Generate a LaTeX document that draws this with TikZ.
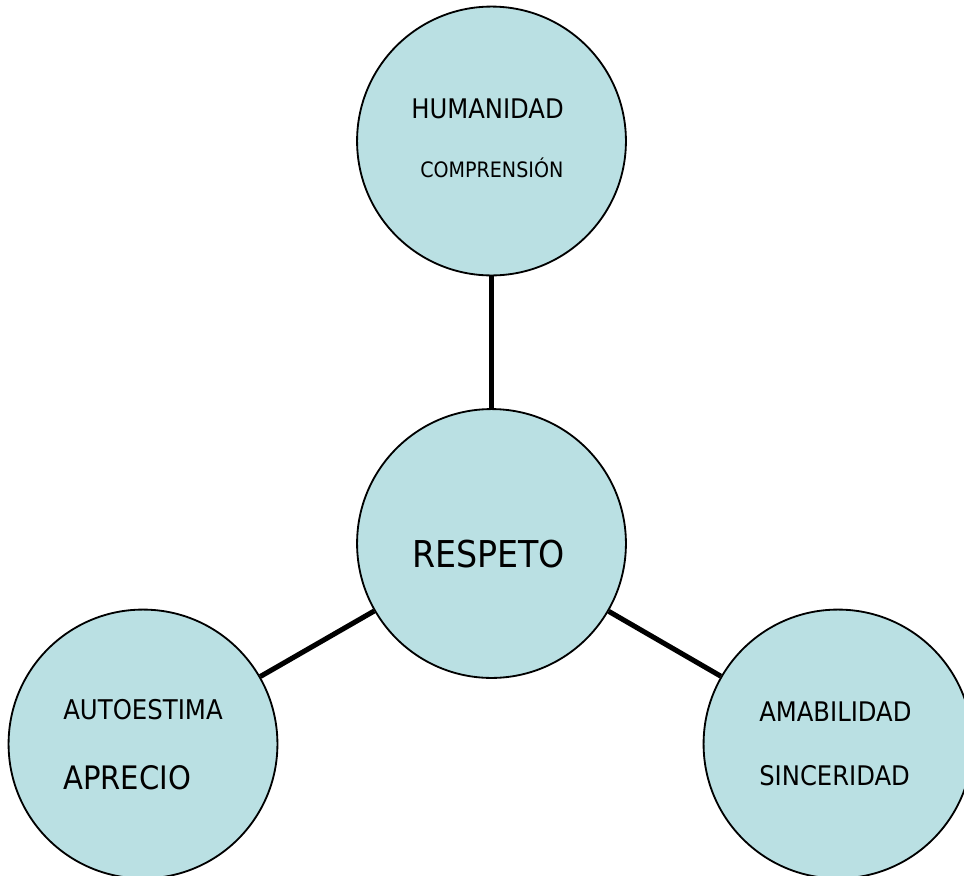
\documentclass[tikz,border=0pt]{standalone}
\usepackage{fontspec}
\setmainfont{DejaVu Sans Condensed}
\usepackage{xcolor}
\usepackage{tikz}
\usetikzlibrary{positioning,calc}
\definecolor{valorfill}{HTML}{BAE0E3}
\tikzset{
    valor/.style={circle, draw=black, line width=1.3pt, fill=valorfill, minimum size=6.72cm, inner sep=0pt},
    enlace/.style={line width=3.6pt},
    texto/.style={anchor=base west, inner sep=0pt}
}

\begin{document}
\begin{tikzpicture}[x=0.025cm, y=-0.025cm]
    \useasboundingbox (0,0) rectangle (964,875);
    \clip (0,0) rectangle (964,875);

    % Circles
    \node[valor] (respeto) at (491.5,543.5) {};
    \node[valor] (humanidad) at (491.5,141) {};
    \node[valor] (autoestima) at (143,744) {};
    \node[valor] (amabilidad) at (838,744) {};

    % Connectors
    \foreach \v in {humanidad,autoestima,amabilidad}
    {
        \draw[enlace] (respeto) -- (\v);
    }

    % Labels
    \node[texto] (t1) at (411,118) {\fontsize{19.2}{23}\selectfont HUMANIDAD};
    \node[texto] (t2) at (420,177) {\fontsize{15.1}{18}\selectfont COMPRENSIÓN};
    \node[texto] (t3) at (412,567) {\fontsize{26.3}{30}\selectfont RESPETO};
    \node[texto] (t4) at (63,719) {\fontsize{19.3}{23}\selectfont AUTOESTIMA};
    \node[texto] (t5) at (63,789) {\fontsize{23}{27}\selectfont APRECIO};
    \node[texto] (t6) at (759,721) {\fontsize{19.2}{23}\selectfont AMABILIDAD};
    \node[texto] (t7) at (759,785) {\fontsize{19.2}{23}\selectfont SINCERIDAD};
\end{tikzpicture}
\end{document}
